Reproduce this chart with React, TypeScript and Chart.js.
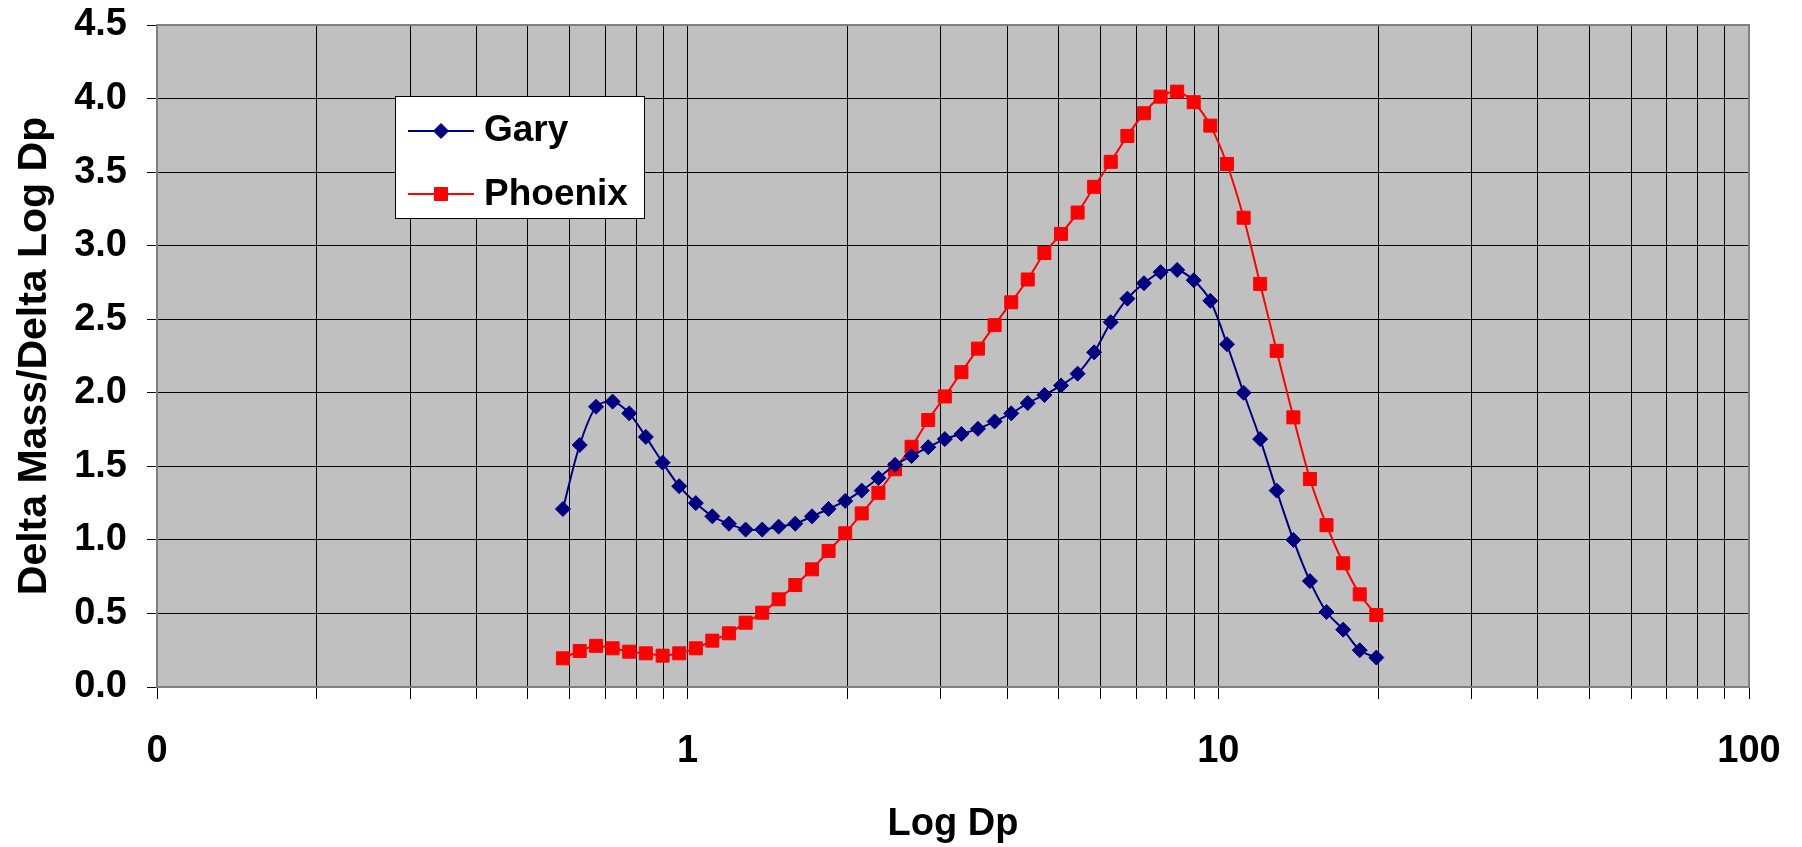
import React, { useEffect, useRef } from 'react';
import { Chart, registerables } from 'chart.js';

Chart.register(...registerables);

// Particle diameter (Dp) of each size bin
const SIZES = [
  0.582, 0.626, 0.672, 0.722, 0.776, 0.834, 0.897, 0.964, 1.036, 1.113,
  1.196, 1.286, 1.382, 1.484, 1.595, 1.715, 1.843, 1.981, 2.128, 2.288,
  2.459, 2.642, 2.84, 3.052, 3.28, 3.524, 3.788, 4.071, 4.374, 4.701,
  5.052, 5.43, 5.834, 6.27, 6.739, 7.242, 7.783, 8.364, 8.987, 9.659,
  10.38, 11.16, 11.99, 12.88, 13.85, 14.88, 15.99, 17.19, 18.47, 19.85,
];

const GARY = [
  1.21, 1.645, 1.905, 1.94, 1.86, 1.7, 1.525, 1.365, 1.25, 1.16,
  1.11, 1.07, 1.07, 1.09, 1.11, 1.16, 1.21, 1.265, 1.335, 1.42,
  1.51, 1.57, 1.63, 1.685, 1.72, 1.755, 1.805, 1.86, 1.93, 1.985,
  2.05, 2.13, 2.275, 2.48, 2.64, 2.745, 2.82, 2.835, 2.765, 2.625,
  2.33, 2.0, 1.685, 1.335, 1.0, 0.72, 0.51, 0.39, 0.25, 0.2,
];

const PHOENIX = [
  0.195, 0.245, 0.28, 0.263, 0.24, 0.229, 0.213, 0.229, 0.263, 0.315,
  0.365, 0.437, 0.505, 0.596, 0.693, 0.8, 0.925, 1.045, 1.18, 1.32,
  1.48, 1.633, 1.815, 1.975, 2.14, 2.3, 2.46, 2.615, 2.77, 2.95,
  3.08, 3.225, 3.4, 3.57, 3.746, 3.9, 4.013, 4.047, 3.975, 3.816,
  3.555, 3.19, 2.74, 2.285, 1.833, 1.414, 1.1, 0.841, 0.63, 0.489,
];

const SERIES_NAMES = ['Gary', 'Phoenix'];

// gridline positions on the log x axis
const X_GRID_TICKS = [
  0.1, 0.2, 0.3, 0.4, 0.5, 0.6, 0.7, 0.8, 0.9,
  1, 2, 3, 4, 5, 6, 7, 8, 9,
  10, 20, 30, 40, 50, 60, 70, 80, 90, 100,
];
const X_TICK_VALUES = [0.1, 1, 10, 100];
const X_TICK_LABELS = ['0', '1', '10', '100'];

const Y_MIN = 0;
const Y_MAX = 4.5;
const Y_STEP = 0.5;

const X_TITLE = 'Log Dp';
const Y_TITLE = 'Delta Mass/Delta Log Dp';

const FONT = '"Liberation Sans", Arial, Helvetica, sans-serif';
const GARY_COLOR = '#000080';
const PHOENIX_COLOR = '#FF0000';

function drawMarker(ctx: CanvasRenderingContext2D, style: string, x: number, y: number, r: number, color: string) {
  ctx.save();
  ctx.fillStyle = color;
  ctx.strokeStyle = color;
  ctx.lineWidth = 1;
  ctx.beginPath();
  if (style === 'rectRot') {
    ctx.moveTo(x, y - r);
    ctx.lineTo(x + r, y);
    ctx.lineTo(x, y + r);
    ctx.lineTo(x - r, y);
    ctx.closePath();
  } else {
    const h = r * Math.SQRT1_2;
    ctx.rect(x - h, y - h, 2 * h, 2 * h);
  }
  ctx.fill();
  ctx.stroke();
  ctx.restore();
}

const plotFramePlugin = {
  id: 'plotFrame',
  beforeDraw(chart: any) {
    const { ctx, chartArea: a } = chart;
    ctx.save();
    ctx.fillStyle = '#FFFFFF';
    ctx.fillRect(0, 0, chart.width, chart.height);
    ctx.fillStyle = '#C0C0C0';
    ctx.fillRect(a.left, a.top, a.right - a.left, a.bottom - a.top);
    ctx.restore();
  },
  beforeDatasetsDraw(chart: any) {
    const { ctx, chartArea: a } = chart;
    ctx.save();
    ctx.strokeStyle = '#808080';
    ctx.lineWidth = 2;
    ctx.strokeRect(a.left, a.top, a.right - a.left, a.bottom - a.top);
    ctx.restore();
  },
};

const legendBoxPlugin = {
  id: 'legendBox',
  afterDraw(chart: any) {
    const { ctx } = chart;
    const box = { x: 395.5, y: 96.5, w: 249, h: 122 };
    ctx.save();
    ctx.fillStyle = '#FFFFFF';
    ctx.fillRect(box.x, box.y, box.w, box.h);
    ctx.strokeStyle = '#000000';
    ctx.lineWidth = 1;
    ctx.strokeRect(box.x, box.y, box.w, box.h);
    const rows = [
      { lineY: 131, baseY: 141 },
      { lineY: 194, baseY: 205 },
    ];
    chart.data.datasets.forEach((ds: any, i: number) => {
      const row = rows[i];
      ctx.strokeStyle = ds.borderColor;
      ctx.lineWidth = ds.borderWidth;
      ctx.beginPath();
      ctx.moveTo(408, row.lineY);
      ctx.lineTo(474, row.lineY);
      ctx.stroke();
      drawMarker(ctx, ds.pointStyle, 441, row.lineY, ds.pointRadius, ds.pointBackgroundColor);
      ctx.fillStyle = '#000000';
      ctx.font = `bold 37px ${FONT}`;
      ctx.textAlign = 'left';
      ctx.textBaseline = 'alphabetic';
      ctx.fillText(ds.label, 484, row.baseY);
    });
    ctx.restore();
  },
};

export default function App() {
  const canvasRef = useRef<HTMLCanvasElement | null>(null);

  useEffect(() => {
    const canvas = canvasRef.current;
    if (!canvas) return;
    const tickFont = { family: FONT, size: 38, weight: 'bold' as const };
    const yTitleFont = { family: FONT, size: 41, weight: 'bold' as const };
    const chart = new Chart(canvas, {
      type: 'line',
      data: {
        datasets: [
          {
            label: SERIES_NAMES[0],
            data: SIZES.map((x, i) => ({ x, y: GARY[i] })),
            borderColor: GARY_COLOR,
            backgroundColor: GARY_COLOR,
            pointBackgroundColor: GARY_COLOR,
            pointBorderColor: GARY_COLOR,
            borderWidth: 2,
            pointStyle: 'rectRot',
            pointRadius: 7.5,
            pointBorderWidth: 1,
            tension: 0.3,
            fill: false,
          },
          {
            label: SERIES_NAMES[1],
            data: SIZES.map((x, i) => ({ x, y: PHOENIX[i] })),
            borderColor: PHOENIX_COLOR,
            backgroundColor: PHOENIX_COLOR,
            pointBackgroundColor: PHOENIX_COLOR,
            pointBorderColor: PHOENIX_COLOR,
            borderWidth: 2,
            pointStyle: 'rect',
            pointRadius: 9.2,
            pointBorderWidth: 1,
            tension: 0.3,
            fill: false,
          },
        ],
      },
      options: {
        responsive: false,
        animation: false,
        events: [],
        layout: { padding: { left: 0, top: 25, right: 53, bottom: 0 } },
        plugins: {
          legend: { display: false },
          tooltip: { enabled: false },
        },
        scales: {
          x: {
            type: 'logarithmic',
            position: 'bottom',
            min: 0.1,
            max: 100,
            afterBuildTicks: (s: any) => {
              s.ticks = X_GRID_TICKS.map((v) => ({ value: v }));
            },
            afterFit: (s: any) => {
              s.height = 160;
              s.paddingLeft = 0;
              s.paddingRight = 0;
            },
            ticks: {
              autoSkip: false,
              maxRotation: 0,
              minRotation: 0,
              padding: 30,
              color: '#000000',
              font: tickFont,
              callback: (v: any) => {
                const idx = X_TICK_VALUES.findIndex((t) => Math.abs(t - Number(v)) < 1e-9);
                return idx >= 0 ? X_TICK_LABELS[idx] : '';
              },
            },
            grid: { color: '#000000', lineWidth: 1, tickLength: 12, drawTicks: true },
            border: { display: false },
            title: {
              display: true,
              text: X_TITLE,
              color: '#000000',
              font: tickFont,
              padding: { top: 0, bottom: 0 },
            },
          },
          y: {
            type: 'linear',
            min: Y_MIN,
            max: Y_MAX,
            afterFit: (s: any) => {
              s.width = 157;
              s.paddingTop = 0;
              s.paddingBottom = 0;
            },
            ticks: {
              stepSize: Y_STEP,
              padding: 20,
              color: '#000000',
              font: tickFont,
              callback: (v: any) => Number(v).toFixed(1),
            },
            grid: { color: '#000000', lineWidth: 1, tickLength: 10, drawTicks: true },
            border: { display: false },
            title: {
              display: true,
              text: Y_TITLE,
              color: '#000000',
              font: yTitleFont,
              padding: { top: 10, bottom: 0 },
            },
          },
        },
      },
      plugins: [plotFramePlugin, legendBoxPlugin],
    } as any);
    return () => chart.destroy();
  }, []);

  return (
    <canvas
      ref={canvasRef}
      width={1802}
      height={847}
      style={{ position: 'absolute', left: 0, top: 0, display: 'block' }}
    />
  );
}
